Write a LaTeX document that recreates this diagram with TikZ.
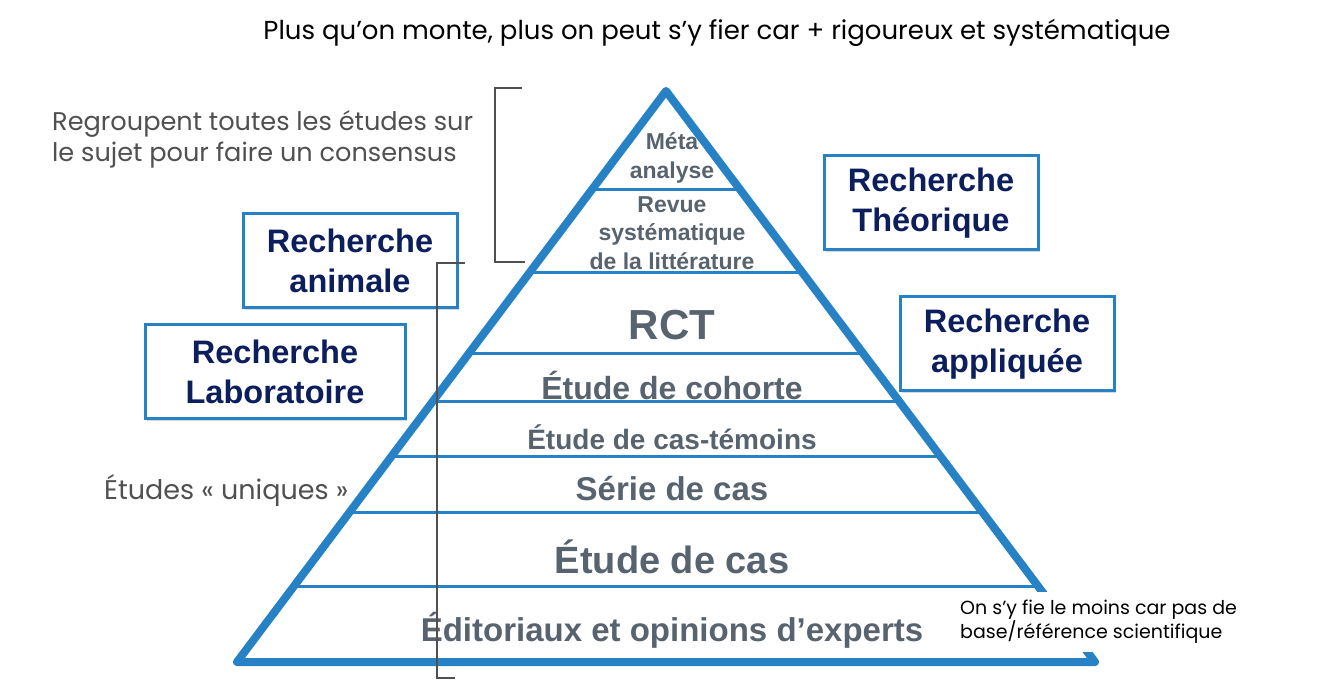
\documentclass[tikz,border=0pt]{standalone}
\usepackage{fontspec}
\setmainfont{Liberation Sans}
\newfontfamily\handfont{Poppins}
\usetikzlibrary{shadows}
\definecolor{pyblue}{RGB}{38,130,196}
\definecolor{lvgray}{RGB}{88,99,112}
\definecolor{navy}{RGB}{12,30,92}
\definecolor{notegray}{RGB}{80,80,80}

\begin{document}
\begin{tikzpicture}[x=1pt,y=-1pt,
  lv/.style={text=lvgray,align=center,inner sep=1pt},
  rb/.style={draw=pyblue,line width=3pt,fill=white,text=navy,align=center,
    font=\fontsize{32.5}{39.5}\selectfont\bfseries,minimum width=214pt,minimum height=94pt,
    drop shadow={shadow xshift=2pt,shadow yshift=-2pt,opacity=.3,fill=gray}},
  nt/.style={align=left,anchor=west,inner sep=0pt},
  sep/.style={pyblue,line width=3pt},
  brk/.style={notegray,line width=1.5pt}]
\useasboundingbox (0,0) rectangle (1334,684);
% pyramid
\coordinate (top) at (666,91);
\coordinate (bl) at (237,662);
\coordinate (br) at (1095,662);
\draw[gray!45,line width=8pt,line join=round,opacity=.5,shift={(4,4)}] (bl) -- (br) -- (top);
\draw[pyblue,line width=8pt,line join=round,line cap=round] (br) -- (bl) -- (top) -- cycle;
\foreach \y in {190,273,354,402,457,512,586}
  \draw[sep] ({666-0.753*(\y-91)},\y) -- ({666+0.753*(\y-91)},\y);
\node[lv,font=\fontsize{23}{29}\selectfont\bfseries] (meta) at (672,158) {Méta\\analyse};
\node[lv,font=\fontsize{23}{28.5}\selectfont\bfseries] (revue) at (672,233) {Revue\\systématique\\de la littérature};
\node[lv,font=\fontsize{42}{48}\selectfont\bfseries] (rct) at (672,325) {RCT};
\node[lv,font=\fontsize{32}{38}\selectfont\bfseries] (coh) at (672,385) {Étude de cohorte};
\node[lv,font=\fontsize{28}{34}\selectfont\bfseries] (temo) at (672,437) {Étude de cas-témoins};
\node[lv,font=\fontsize{33}{38}\selectfont\bfseries] (serie) at (672,489) {Série de cas};
\node[lv,font=\fontsize{38}{44}\selectfont\bfseries] (cas) at (672,557) {Étude de cas};
\node[lv,font=\fontsize{33}{38}\selectfont\bfseries] (edit) at (672,630) {Éditoriaux et opinions d’experts};
% boxes
\node[rb] (anim) at (350,261) {Recherche\\animale};
\node[rb,minimum width=260pt] (labo) at (275,372) {Recherche\\Laboratoire};
\node[rb] (theo) at (931,203) {Recherche\\Théorique};
\node[rb] (appl) at (1007,344) {Recherche\\appliquée};
% brackets
\draw[brk] (522,88) -| (495,262) -- (525,262);
\draw[brk] (465,263) -| (437,678) -- (455,678);
% notes
\node[nt,anchor=center,font=\handfont\fontsize{26}{30}\selectfont] (titre) at (717,33)
  {Plus qu’on monte, plus on peut s’y fier car + rigoureux et systématique};
\node[nt,text=notegray,font=\handfont\fontsize{25.6}{31}\selectfont] (regr) at (52,139)
  {Regroupent toutes les études sur\\le sujet pour faire un consensus};
\node[nt,text=notegray,font=\handfont\fontsize{27}{30}\selectfont] (uniq) at (104,490) {Études « uniques »};
\node[nt,fill=white,inner xsep=5pt,minimum height=60pt,font=\handfont\fontsize{19}{24}\selectfont] (fie) at (955,622)
  {On s’y fie le moins car pas de\\base/référence scientifique};
\end{tikzpicture}
\end{document}
